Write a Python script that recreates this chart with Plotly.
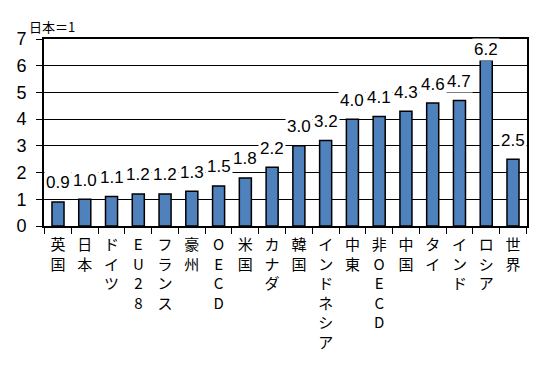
import plotly.graph_objects as go

categories = ["英国", "日本", "ドイツ", "EU28", "フランス", "豪州", "OECD", "米国", "カナダ",
              "韓国", "インドネシア", "中東", "非OECD", "中国", "タイ", "インド", "ロシア", "世界"]
values = [0.9, 1.0, 1.1, 1.2, 1.2, 1.3, 1.5, 1.8, 2.2, 3.0, 3.2, 4.0, 4.1, 4.3, 4.6, 4.7, 6.2, 2.5]
y_ticks = [0, 1, 2, 3, 4, 5, 6, 7]

num_font = "Liberation Sans, Arial, sans-serif"
jp_font = "Noto Sans CJK JP, sans-serif"

tick_text = ["<br>".join(list(c)) for c in categories]

fig = go.Figure()
fig.add_trace(go.Bar(
    x=categories, y=values,
    marker=dict(color="#4F81BD", line=dict(color="#000000", width=1.5)),
    width=0.45,
))

for c, v in zip(categories, values):
    fig.add_annotation(
        x=c, y=v, text=f"{v:.1f}", showarrow=False,
        yanchor="middle", yshift=19 if v < 6 else 11,
        bgcolor="white", borderpad=1,
        font=dict(family=num_font, size=17, color="#000"),
    )

fig.add_annotation(
    xref="paper", yref="paper", x=-0.035, y=1.0, yshift=13,
    xanchor="left", yanchor="middle", text="日本＝1", showarrow=False,
    font=dict(family=jp_font, size=13, color="#000"),
)

# page body has an 8px default margin, so figure is sized/offset accordingly
fig.update_layout(
    width=542, height=361,
    margin=dict(l=36, r=23, t=31, b=143, autoexpand=False),
    paper_bgcolor="white", plot_bgcolor="white",
    showlegend=False,
    xaxis=dict(
        type="category", tickmode="array", tickvals=categories, ticktext=tick_text,
        tickson="boundaries", ticks="outside", ticklen=6, tickcolor="#000", tickwidth=1,
        showline=True, linecolor="#000", linewidth=2, mirror=True,
        showgrid=False, automargin=False, ticklabelstandoff=4,
        tickfont=dict(family=jp_font, size=15, color="#000"),
        tickangle=0,
    ),
    yaxis=dict(
        range=[0, 7], tickmode="array", tickvals=y_ticks,
        ticks="outside", ticklen=6, tickcolor="#000",
        showline=True, linecolor="#000", linewidth=2, mirror=True,
        showgrid=True, gridcolor="#000", gridwidth=1,
        zeroline=False, automargin=False, ticklabelstandoff=6,
        tickfont=dict(family=num_font, size=18, color="#000"),
    ),
)

fig.write_html("out.html")
